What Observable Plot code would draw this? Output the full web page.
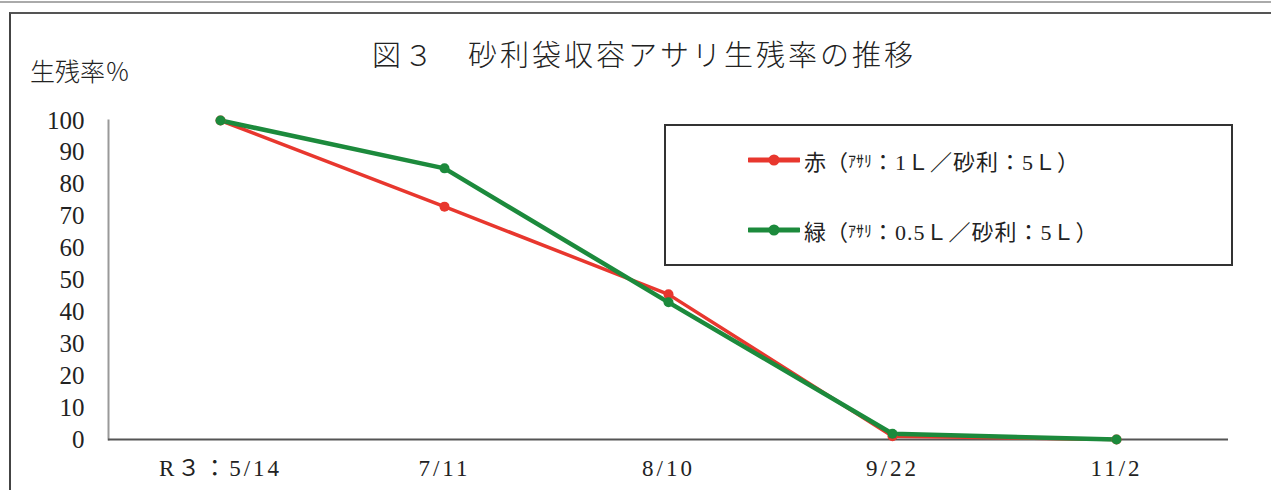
<!DOCTYPE html>
<html>
<head>
<meta charset="utf-8">
<script src="https://cdn.jsdelivr.net/npm/d3@7"></script>
<script src="https://cdn.jsdelivr.net/npm/@observablehq/plot@0.6"></script>
<style>
  html, body { margin: 0; padding: 0; background: #fff; }
  #wrap { position: relative; width: 1271px; height: 490px; overflow: hidden; background: #fff;
          font-family: "Liberation Serif", "Noto Sans CJK JP", serif; color: #222; }
  #topline { position: absolute; left: 0; top: 1px; width: 1271px; height: 2px; background: #aaa; }
  #frame { position: absolute; left: 9px; top: 12px; width: 1300px; height: 520px;
           border-left: 2px solid #444; border-top: 2px solid #555; }
  #title { position: absolute; left: 372px; top: 36px; font-size: 29px; line-height: 34px;
           letter-spacing: 3px; white-space: nowrap; font-family: "Noto Sans CJK JP", sans-serif; font-weight: 300; }
  #ylabel { position: absolute; left: 30px; top: 55px; font-size: 25px; line-height: 30px;
            white-space: nowrap; font-family: "Noto Sans CJK JP", sans-serif; font-weight: 300; }
  #legend { position: absolute; left: 664px; top: 124px; width: 565px; height: 138px;
            border: 2px solid #333; background: #fff; }
  .entry { position: absolute; left: 82px; height: 30px; display: flex; align-items: center;
           white-space: nowrap; font-size: 22px; font-family: "Liberation Serif", "Noto Sans CJK JP", serif; }
  .entry svg { margin-right: 4px; }
  .small { font-size: 16px; }
  .num { letter-spacing: 1px; }
  #chart { position: absolute; left: 0; top: 0; }
</style>
</head>
<body>
<div id="wrap">
  <div id="topline"></div>
  <div id="frame"></div>
  <div id="chart"></div>
  <div id="title"></div>
  <div id="ylabel"></div>
  <div id="legend"></div>
</div>
<script>
// ---- data ----
const dates = ["R３：5/14", "7/11", "8/10", "9/22", "11/2"];
const seriesNames = ["赤", "緑"];
const seriesLabels = ["（ｱｻﾘ：1Ｌ／砂利：5Ｌ）", "（ｱｻﾘ：0.5Ｌ／砂利：5Ｌ）"];
const redValues = [100, 73, 45.5, 1, 0];
const greenValues = [100, 85, 43, 1.8, 0];
const yTicks = [0, 10, 20, 30, 40, 50, 60, 70, 80, 90, 100];
const titleText = "図３　砂利袋収容アサリ生残率の推移";
const yLabelText = "生残率％";
const colors = ["#e8372e", "#1c8a3c"];

const rows = [];
dates.forEach((d, i) => rows.push({date: d, value: redValues[i], series: seriesNames[0]}));
dates.forEach((d, i) => rows.push({date: d, value: greenValues[i], series: seriesNames[1]}));

const chart = Plot.plot({
  width: 1271,
  height: 490,
  marginLeft: 108,
  marginRight: 43,
  marginTop: 120,
  marginBottom: 51,
  style: {fontFamily: "'Liberation Serif', 'Noto Sans CJK JP', serif", fontSize: "22px", color: "#222", background: "transparent"},
  x: {type: "point", domain: dates, padding: 0.5, label: null},
  y: {domain: [0, 100], label: null},
  color: {domain: seriesNames, range: colors},
  marks: [
    Plot.axisY({ticks: yTicks, tickSize: 0, tickPadding: 24, label: null, fontSize: 25}),
    Plot.axisX({tickSize: 0, tickPadding: 20, label: null, fontSize: 23, className: "xax"}),
    Plot.frame({anchor: "left", stroke: "#999", strokeWidth: 2}),
    Plot.ruleY([0], {stroke: "#555", strokeWidth: 2}),
    Plot.line(rows, {x: "date", y: "value", z: "series", stroke: "series", strokeWidth: d => d.series === seriesNames[0] ? 3.5 : 4.5}),
    Plot.dot(rows, {x: "date", y: "value", fill: "series", r: 5})
  ]
});
d3.select(chart).selectAll("g.xax text").style("letter-spacing", "3px");
document.getElementById("chart").appendChild(chart);

document.getElementById("title").textContent = titleText;
document.getElementById("ylabel").textContent = yLabelText;

const legend = document.getElementById("legend");
const tops = [19, 89];
seriesNames.forEach((name, i) => {
  const e = document.createElement("div");
  e.className = "entry";
  e.style.top = tops[i] + "px";
  const c = colors[i];
  const lab = seriesLabels[i];
  const m = lab.match(/^（(ｱｻﾘ)(.*)$/);
  e.innerHTML = `<svg width="52" height="14"><line x1="1" y1="7" x2="51" y2="7" stroke="${c}" stroke-width="5" stroke-linecap="round"/><circle cx="26" cy="7" r="5.5" fill="${c}"/></svg>` +
    `<span>${name}（</span><span class="small">${m[1]}</span><span class="num">${m[2]}</span>`;
  legend.appendChild(e);
});
</script>
</body>
</html>
